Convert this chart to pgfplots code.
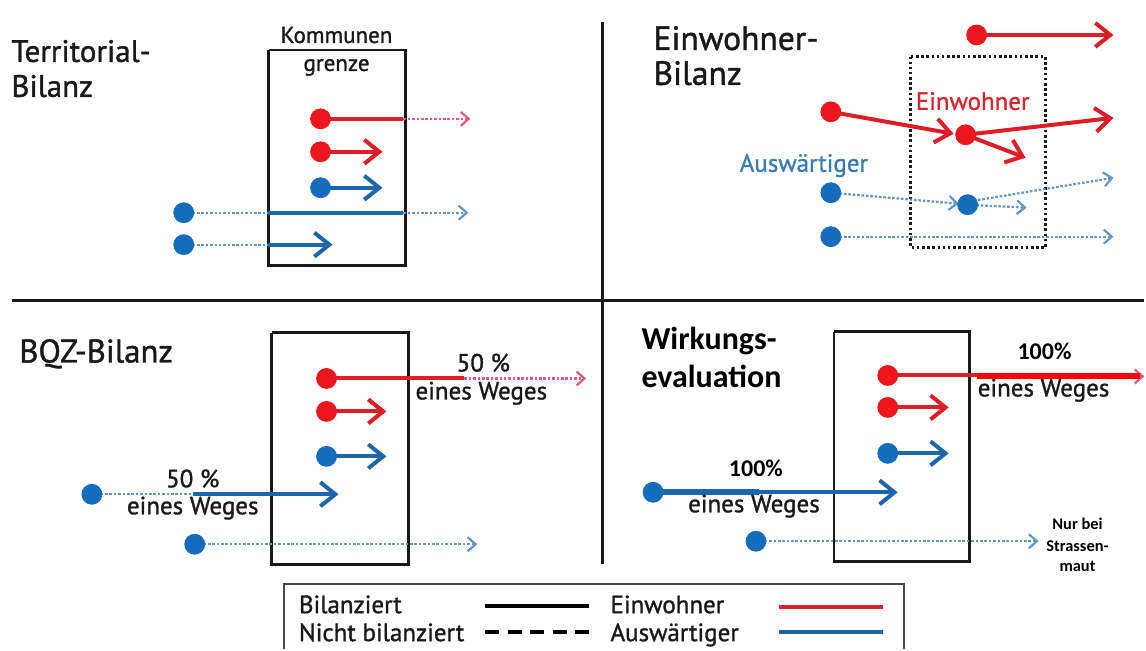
\documentclass[border=0pt]{standalone}
\usepackage{pgfplots}
\pgfplotsset{compat=1.18}
\usepackage{fontspec}
\setmainfont{PT Sans}[FakeBold=1.2]
\newfontfamily\carl{Carlito}
\usetikzlibrary{arrows.meta}
\definecolor{rdot}{RGB}{235,22,30}
\definecolor{rline}{RGB}{222,30,38}
\definecolor{rdots}{RGB}{226,90,130}
\definecolor{bdot}{RGB}{22,108,188}
\definecolor{bline}{RGB}{30,102,170}
\definecolor{bdots}{RGB}{95,150,200}
\definecolor{rtext}{RGB}{215,40,50}
\definecolor{btext}{RGB}{60,125,175}
\definecolor{ink}{RGB}{25,25,25}
\tikzset{
  sol/.style={line width=2pt,-{Straight Barb[length=7.5pt,width=12pt,line width=2pt]}},
  soln/.style={line width=2pt},
  dot/.style={line width=1.1pt,dash pattern=on 1.3pt off 0.9pt,-{Straight Barb[length=4pt,width=7pt,line width=1.1pt]}},
  dotn/.style={line width=1.1pt,dash pattern=on 1.3pt off 0.9pt},
  tt/.style={font=\fontsize{15.5}{18}\selectfont,text=ink,anchor=base west,inner sep=0pt},
  tx/.style={font=\fontsize{12.5}{15}\selectfont,text=ink,anchor=base,inner sep=0pt},
}
\pgfplotsset{mk/.style={only marks,mark=*,mark size=5pt}}
\begin{document}
\begin{tikzpicture}
\begin{axis}[width=573pt,height=325pt,scale only axis,xmin=0,xmax=1146,ymin=0,ymax=650,y dir=reverse,hide axis,clip=false]
\path (axis cs:0,0) rectangle (axis cs:1146,650);
% dividers
\addplot[ink,line width=1.6pt] coordinates {(12,301) (1146,301)};
\addplot[ink,line width=1.6pt] coordinates {(603,22) (603,565)};

% ===== Panel 1: Territorial-Bilanz
\node[tt] at (axis cs:11,62) {Territorial-};
\node[tt] at (axis cs:11,97) {Bilanz};
\addplot[ink,line width=1.3pt] coordinates {(269,50) (406,50) (406,266) (269,266) (269,50)};
\node[tx,font=\fontsize{11.5}{14}\selectfont] at (axis cs:337,43) {Kommunen};
\node[tx,font=\fontsize{11.5}{14}\selectfont] at (axis cs:337,71) {grenze};
\addplot[rline,soln] coordinates {(321,119) (404,119)};
\addplot[rdots,dot] coordinates {(404,119) (471,119)};
\addplot[rline,sol] coordinates {(321,152) (383,152)};
\addplot[bline,sol] coordinates {(321,188) (383,188)};
\addplot[bdots,dotn] coordinates {(184,213) (268,213)};
\addplot[bline,soln] coordinates {(268,213) (404,213)};
\addplot[bdots,dot] coordinates {(404,213) (469,213)};
\addplot[bdots,dotn] coordinates {(184,245) (268,245)};
\addplot[bline,sol] coordinates {(268,245) (333,245)};
\addplot[rdot,mk] coordinates {(321,119) (321,152)};
\addplot[bdot,mk] coordinates {(321,188) (184,213) (184,245)};

% ===== Panel 2: Einwohner-Bilanz
\node[tt,font=\fontsize{16.8}{19}\selectfont] at (axis cs:654,50) {Einwohner-};
\node[tt,font=\fontsize{16.8}{19}\selectfont] at (axis cs:654,85) {Bilanz};
\addplot[ink,line width=1.5pt,dash pattern=on 1.3pt off 1.3pt] coordinates {(912,57) (1047,57) (1047,248) (912,248) (912,57)};
\node[tx,text=rtext] at (axis cs:974,110) {Einwohner};
\node[tx,text=btext] at (axis cs:805,172) {Auswärtiger};
\addplot[rline,sol] coordinates {(978,35) (1115,35)};
\addplot[rline,sol] coordinates {(832,112) (955,134)};
\addplot[rline,sol] coordinates {(967,135) (1115,118)};
\addplot[rline,sol] coordinates {(967,135) (1027,158)};
\addplot[bdots,dot] coordinates {(832,193) (960,204)};
\addplot[bdots,dot] coordinates {(969,205) (1028,208)};
\addplot[bdots,dot] coordinates {(975,201) (1115,178)};
\addplot[bdots,dot] coordinates {(832,237) (1115,237)};
\addplot[rdot,mk] coordinates {(978,35) (832,112) (967,135)};
\addplot[bdot,mk] coordinates {(832,193) (969,205) (832,237)};

% ===== Panel 3: BQZ-Bilanz
\node[tt,font=\fontsize{16.4}{19}\selectfont] at (axis cs:19,363) {BQZ-Bilanz};
\addplot[ink,line width=1.3pt] coordinates {(272,333) (409,333) (409,565) (272,565) (272,333)};
\addplot[rline,soln] coordinates {(327,379) (465,379)};
\addplot[rdots,dot] coordinates {(465,379) (587,379)};
\node[tx] at (axis cs:484,372) {50 \%};
\node[tx] at (axis cs:482,400) {eines Weges};
\addplot[rline,sol] coordinates {(327,412) (387,412)};
\addplot[bline,sol] coordinates {(327,457) (387,457)};
\addplot[bdots,dotn] coordinates {(92,495) (193,495)};
\addplot[bline,sol] coordinates {(193,495) (339,495)};
\node[tx] at (axis cs:193,488) {50 \%};
\node[tx] at (axis cs:193,515) {eines Weges};
\addplot[bdots,dot] coordinates {(195,545) (478,545)};
\addplot[rdot,mk] coordinates {(327,379) (327,412)};
\addplot[bdot,mk] coordinates {(327,457) (92,495) (195,545)};

% ===== Panel 4: Wirkungsevaluation
\node[tt,font=\carl\bfseries\fontsize{16}{19}\selectfont,text=black] at (axis cs:642,350) {Wirkungs-};
\node[tt,font=\carl\bfseries\fontsize{16}{19}\selectfont,text=black] at (axis cs:642,388) {evaluation};
\addplot[ink,line width=1.3pt] coordinates {(835,332) (971,332) (971,562) (835,562) (835,332)};
\addplot[rline,soln] coordinates {(889,376) (978,376)};
\addplot[rdots,dot] coordinates {(978,377) (1146,377)};
\addplot[red,line width=3pt] coordinates {(978,377) (1142,377)};
\node[tx,font=\carl\bfseries\fontsize{12}{14}\selectfont,text=black] at (axis cs:1046,360) {100\%};
\node[tx] at (axis cs:1045,397) {eines Weges};
\addplot[rline,sol] coordinates {(889,408) (950,408)};
\addplot[bline,sol] coordinates {(889,454) (950,454)};
\addplot[bline,line width=3pt] coordinates {(654,493) (760,493)};
\addplot[bline,sol] coordinates {(760,493) (899,493)};
\node[tx,font=\carl\bfseries\fontsize{12}{14}\selectfont,text=black] at (axis cs:757,477) {100\%};
\node[tx] at (axis cs:755,513) {eines Weges};
\addplot[bdots,dot] coordinates {(757,542) (1040,542)};
\node[tx,font=\carl\bfseries\fontsize{8.2}{10}\selectfont,text=black] at (axis cs:1079,530) {Nur bei};
\node[tx,font=\carl\bfseries\fontsize{8.2}{10}\selectfont,text=black] at (axis cs:1079,552) {Strassen-};
\node[tx,font=\carl\bfseries\fontsize{8.2}{10}\selectfont,text=black] at (axis cs:1079,572) {maut};
\addplot[rdot,mk] coordinates {(889,376) (889,408)};
\addplot[bdot,mk] coordinates {(889,454) (654,493) (757,542)};

% ===== Legend
\addplot[ink!80,line width=1pt] coordinates {(284,650) (284,585) (905,585) (905,650)};
\node[tx,anchor=base west] at (axis cs:299,614) {Bilanziert};
\node[tx,anchor=base west] at (axis cs:299,642) {Nicht bilanziert};
\addplot[black,line width=2pt] coordinates {(486,607) (590,607)};
\addplot[black,line width=2pt,dash pattern=on 7pt off 4.25pt] coordinates {(486,633) (590,633)};
\node[tx,anchor=base west] at (axis cs:611,614) {Einwohner};
\node[tx,anchor=base west] at (axis cs:611,642) {Auswärtiger};
\addplot[rline,line width=2pt] coordinates {(780,608) (884,608)};
\addplot[bline,line width=2pt] coordinates {(780,633) (884,633)};
\end{axis}
\end{tikzpicture}
\end{document}
